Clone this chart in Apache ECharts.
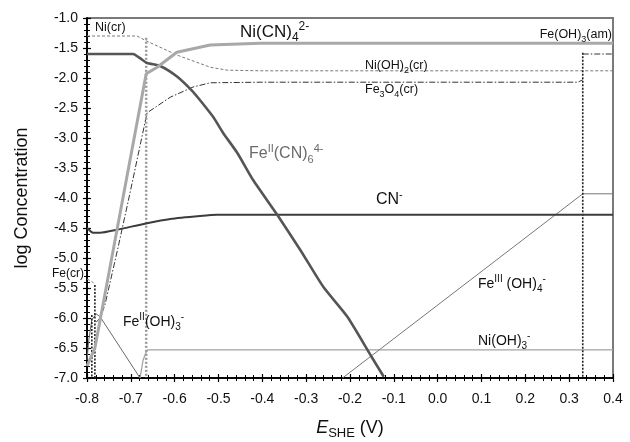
<!DOCTYPE html>
<html><head><meta charset="utf-8">
<script src="https://cdn.jsdelivr.net/npm/echarts@6/dist/echarts.min.js"></script>
<style>html,body{margin:0;padding:0;background:#fff}#c{width:630px;height:442px}</style>
</head><body><div id="c"></div>
<script>
// ---- data (E in V vs SHE, log concentration) ----
const niCN4   = [[-0.8,-6.8],[-0.782,-6.5],[-0.665,-1.93],[-0.64,-1.82],[-0.595,-1.57],[-0.519,-1.45],[-0.405,-1.42],[0.4,-1.42]];
const feCN6   = [[-0.8,-1.6],[-0.695,-1.6],[-0.679,-1.67],[-0.663,-1.75],[-0.633,-1.8],[-0.594,-1.98],[-0.558,-2.23],[-0.542,-2.37],[-0.512,-2.65],[-0.489,-2.92],[-0.457,-3.25],[-0.421,-3.7],[-0.366,-4.28],[-0.313,-4.87],[-0.261,-5.48],[-0.206,-5.98],[-0.153,-6.62],[-0.123,-6.98]];
const cnMinus = [[-0.8,-4.5],[-0.791,-4.56],[-0.786,-4.58],[-0.77,-4.58],[-0.732,-4.53],[-0.663,-4.42],[-0.61,-4.35],[-0.542,-4.3],[-0.503,-4.28],[0.4,-4.28]];
const niSolid = [[-0.8,-1.3],[-0.686,-1.3],[-0.665,-1.38],[-0.594,-1.62],[-0.519,-1.82],[-0.48,-1.87],[-0.405,-1.88],[0.4,-1.88]];
const fe3o4   = [[-0.779,-6.07],[-0.77,-6.0],[-0.759,-5.78],[-0.729,-4.82],[-0.702,-3.92],[-0.663,-2.58],[-0.61,-2.32],[-0.558,-2.15],[-0.519,-2.08],[-0.405,-2.07],[0.32,-2.07],[0.331,-2.03]];
const feOH3am = [[0.331,-1.6],[0.4,-1.6]];
const feIIOH3 = [[-0.8,-6.7],[-0.796,-6.37],[-0.789,-6.03],[-0.779,-5.93],[-0.775,-5.9],[-0.77,-5.98],[-0.679,-7.0]];
const niOH3   = [[-0.679,-7.0],[-0.672,-6.7],[-0.665,-6.57],[-0.661,-6.53],[0.4,-6.53]];
const feIIIOH4= [[-0.217,-7.0],[0.331,-3.93],[0.4,-3.93]];
const feCr    = [[-0.8,-5.35],[-0.787,-5.4],[-0.782,-5.45]];
const bound1  = [[-0.665,-1.33],[-0.665,-7.0]];
const bound2  = [[0.331,-1.58],[0.331,-7.0]];
const feCrV1  = [[-0.782,-5.45],[-0.782,-7.0]];
const feCrV2  = [[-0.789,-5.95],[-0.789,-7.0]];
const xTickLabels = ['-0.8','-0.7','-0.6','-0.5','-0.4','-0.3','-0.2','-0.1','0.0','0.1','0.2','0.3','0.4'];

const F = '"Liberation Sans", Arial, Helvetica, sans-serif';
const chart = echarts.init(document.getElementById('c'), null, {renderer:'canvas'});

function line(data, color, width, type, z, smooth) {
  return {type:'line', data, showSymbol:false, symbol:'none', smooth: smooth || false, animation:false,
    lineStyle:{color, width, type: type || 'solid'}, z: z || 2, silent:true};
}
function rich(base) {
  const s = Math.round(base*0.68), lh = base + 6;
  return {
    n:{fontSize:base, fontFamily:F, lineHeight:lh, verticalAlign:'middle'},
    b:{fontSize:s, fontFamily:F, lineHeight:s+1, verticalAlign:'bottom'},
    p:{fontSize:s, fontFamily:F, lineHeight:s+1, verticalAlign:'top'}
  };
}
function txt(x, y, text, base, color, align) {
  return {type:'text', x, y, z:100, silent:true,
    style:{text, rich:rich(base), fill:color || '#111', align: align || 'left', verticalAlign:'middle',
      fontSize:base, fontFamily:F}};
}

const axX = (inside, labels) => ({
  type:'value', position:'bottom', min:-0.8, max:0.4, interval:0.1,
  axisLine:{show:true, onZero:false, lineStyle:{color:'#000', width:1.5}},
  axisTick:{show:true, inside, length:4, lineStyle:{color:'#000', width:1.2}},
  minorTick:{show:true, splitNumber:5, length:3, lineStyle:{color:'#000', width:1}},
  splitLine:{show:false},
  axisLabel:{show:labels, margin:14, fontSize:14, fontFamily:F, color:'#111',
    formatter: v => xTickLabels[Math.round((v+0.8)*10)] || v.toFixed(1)},
  name: labels ? '{e|E}{s|SHE}{n| (V)}' : '', nameLocation:'middle', nameGap:38,
  nameTextStyle:{rich:{e:{fontSize:18, fontStyle:'italic', fontFamily:F, color:'#111', lineHeight:24, verticalAlign:'middle'},
    s:{fontSize:13, fontFamily:F, color:'#111', lineHeight:14, verticalAlign:'bottom'},
    n:{fontSize:18, fontFamily:F, color:'#111', lineHeight:24, verticalAlign:'middle'}}}
});
const axY = (inside, labels) => ({
  type:'value', position:'left', min:-7, max:-1, interval:0.5,
  axisLine:{show:true, onZero:false, lineStyle:{color:'#000', width:1.5}},
  axisTick:{show:true, inside, length:4, lineStyle:{color:'#000', width:1.2}},
  minorTick:{show:true, splitNumber:5, length:3, lineStyle:{color:'#000', width:1}},
  splitLine:{show:false},
  axisLabel:{show:labels, margin:9, fontSize:14, fontFamily:F, color:'#111', formatter: v => v.toFixed(1)},
  name: labels ? 'log Concentration' : '', nameLocation:'middle', nameGap:56,
  nameTextStyle:{fontSize:18, fontFamily:F, color:'#111'}
});

chart.setOption({
  animation:false,
  backgroundColor:'#fff',
  grid:{left:87, right:17, top:18, bottom:64, containLabel:false, outerBoundsMode:'none',
    show:true, borderColor:'#7a7a7a', borderWidth:2, backgroundColor:'transparent'},
  xAxis:[axX(false,true), axX(true,false)],
  yAxis:[axY(false,true), axY(true,false)],
  series:[
    line(niSolid, '#7a7a7a', 1, [3,2], 2),
    line(fe3o4, '#333', 1, [6,2,1.5,2], 2),
    line(feOH3am, '#333', 1, [6,2,1.5,2], 2),
    line(feIIOH3, '#6a6a6a', 1, 'solid', 2),
    line(niOH3, '#a3a3a3', 1.3, 'solid', 2),
    line(feIIIOH4, '#777', 1, 'solid', 2),
    line(feCr, '#888', 1, [3,2], 2),
    line(bound1, '#9a9a9a', 2.5, [2,2], 3),
    line(bound2, '#222', 1.6, [2,1.5], 3),
    line(feCrV1, '#222', 1.6, [2,1.5], 3),
    line(feCrV2, '#222', 1.6, [2,1.5], 3),
    line(cnMinus, '#3c3c3c', 2, 'solid', 4, 0.2),
    line(feCN6, '#555', 2.6, 'solid', 5, 0.2),
    line(niCN4, '#a8a8a8', 3, 'solid', 6)
  ],
  graphic:[
    txt(95, 28, '{n|Ni(cr)}', 12.5),
    txt(240, 32, '{n|Ni(CN)}{b|4}{p|2-}', 17),
    txt(612, 35, '{n|Fe(OH)}{b|3}{n|(am)}', 12.5, '#111', 'right'),
    txt(365, 66, '{n|Ni(OH)}{b|2}{n|(cr)}', 12.5),
    txt(365, 90, '{n|Fe}{b|3}{n|O}{b|4}{n|(cr)}', 12.5),
    txt(249, 154, '{n|Fe}{p|II}{n|(CN)}{b|6}{p|4-}', 16, '#6b6b6b'),
    txt(376, 200, '{n|CN}{p|-}', 16),
    txt(84, 274, '{n|Fe(cr)}', 12, '#111', 'right'),
    txt(123, 322, '{n|Fe}{p|II}{n|(OH)}{b|3}{p|-}', 14),
    txt(478, 284, '{n|Fe}{p|III}{n| (OH)}{b|4}{p|-}', 14),
    txt(478, 341, '{n|Ni(OH)}{b|3}{p|-}', 14)
  ]
});
</script></body></html>
